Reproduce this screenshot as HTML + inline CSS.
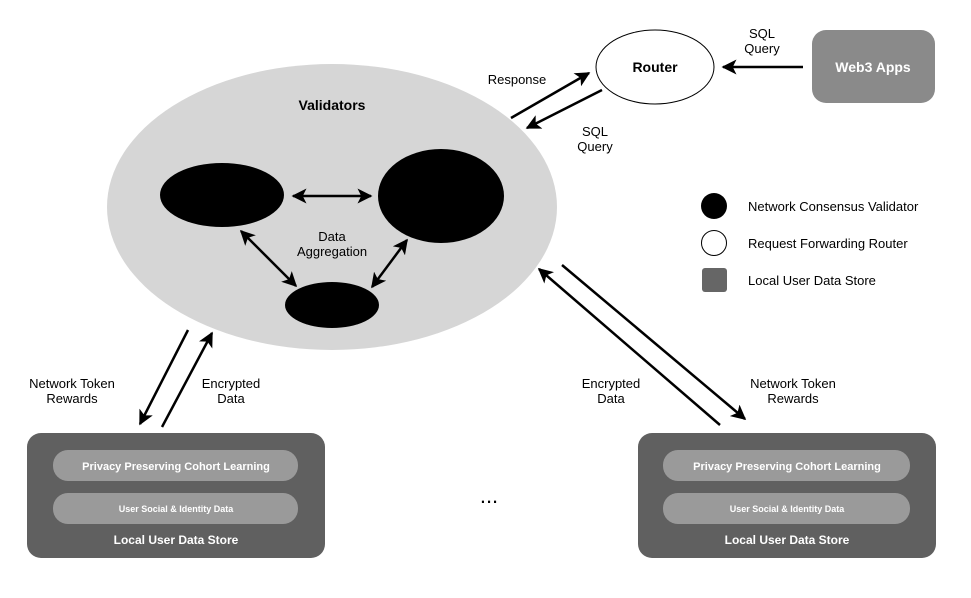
<!DOCTYPE html>
<html><head><style>
body{margin:0;background:#fff;}
svg{display:block;font-family:"Liberation Sans",Arial,sans-serif;}
</style></head><body>
<svg width="971" height="598" viewBox="0 0 971 598" xmlns="http://www.w3.org/2000/svg">
<defs>
<marker id="a" viewBox="0 0 10 10" refX="9" refY="5" markerWidth="6" markerHeight="6" orient="auto-start-reverse" markerUnits="strokeWidth">
<path d="M0,0 L10,5 L0,10 L2.5,5 z" fill="#000"/></marker>
</defs>
<rect width="971" height="598" fill="#fff"/>
<ellipse cx="332" cy="207" rx="225" ry="143" fill="#d6d6d6"/>
<text x="332" y="110" font-size="14" font-weight="bold" text-anchor="middle">Validators</text>
<ellipse cx="222" cy="195" rx="62" ry="32" fill="#000"/>
<ellipse cx="441" cy="196" rx="63" ry="47" fill="#000"/>
<ellipse cx="332" cy="305" rx="47" ry="23" fill="#000"/>
<g stroke="#000" stroke-width="2.5" fill="none">
<line x1="293" y1="196" x2="371" y2="196" marker-start="url(#a)" marker-end="url(#a)"/>
<line x1="241" y1="231" x2="296" y2="286" marker-start="url(#a)" marker-end="url(#a)"/>
<line x1="407" y1="240" x2="372" y2="287" marker-start="url(#a)" marker-end="url(#a)"/>
<line x1="511" y1="118" x2="589" y2="73" marker-end="url(#a)"/>
<line x1="602" y1="90" x2="527" y2="128" marker-end="url(#a)"/>
<line x1="803" y1="67" x2="723" y2="67" marker-end="url(#a)"/>
<line x1="188" y1="330" x2="140" y2="424" marker-end="url(#a)"/>
<line x1="162" y1="427" x2="212" y2="333" marker-end="url(#a)"/>
<line x1="562" y1="265" x2="745" y2="419" marker-end="url(#a)"/>
<line x1="720" y1="425" x2="539" y2="269" marker-end="url(#a)"/>
</g>
<text x="332" y="241" font-size="13" text-anchor="middle">Data</text>
<text x="332" y="256" font-size="13" text-anchor="middle">Aggregation</text>
<ellipse cx="655" cy="67" rx="59" ry="37" fill="#fff" stroke="#000" stroke-width="1"/>
<text x="655" y="72" font-size="14" font-weight="bold" text-anchor="middle">Router</text>
<rect x="812" y="30" width="123" height="73" rx="14" fill="#8a8a8a"/>
<text x="873" y="72" font-size="14" font-weight="bold" fill="#fff" text-anchor="middle">Web3 Apps</text>
<g font-size="13" text-anchor="middle">
<text x="762" y="38">SQL</text><text x="762" y="53">Query</text>
<text x="517" y="84">Response</text>
<text x="595" y="136">SQL</text><text x="595" y="151">Query</text>
<text x="72" y="388">Network Token</text><text x="72" y="403">Rewards</text>
<text x="231" y="388">Encrypted</text><text x="231" y="403">Data</text>
<text x="611" y="388">Encrypted</text><text x="611" y="403">Data</text>
<text x="793" y="388">Network Token</text><text x="793" y="403">Rewards</text>
</g>
<circle cx="714" cy="206" r="13" fill="#000"/>
<circle cx="714" cy="243" r="12.5" fill="#fff" stroke="#000" stroke-width="1"/>
<rect x="702" y="268" width="25" height="24" rx="3" fill="#666"/>
<g font-size="13">
<text x="748" y="211">Network Consensus Validator</text>
<text x="748" y="248">Request Forwarding Router</text>
<text x="748" y="285">Local User Data Store</text>
</g>
<g>
<rect x="27" y="433" width="298" height="125" rx="14" fill="#606060"/>
<rect x="53" y="450" width="245" height="31" rx="15" fill="#9a9a9a"/>
<rect x="53" y="493" width="245" height="31" rx="15" fill="#9a9a9a"/>
<text x="176" y="470" font-size="11" font-weight="bold" fill="#fff" text-anchor="middle">Privacy Preserving Cohort Learning</text>
<text x="176" y="512" font-size="9" font-weight="bold" fill="#fff" text-anchor="middle">User Social &amp; Identity Data</text>
<text x="176" y="544" font-size="12" font-weight="bold" fill="#fff" text-anchor="middle">Local User Data Store</text>
</g>
<g transform="translate(611,0)">
<rect x="27" y="433" width="298" height="125" rx="14" fill="#606060"/>
<rect x="52" y="450" width="247" height="31" rx="15" fill="#9a9a9a"/>
<rect x="52" y="493" width="247" height="31" rx="15" fill="#9a9a9a"/>
<text x="176" y="470" font-size="11" font-weight="bold" fill="#fff" text-anchor="middle">Privacy Preserving Cohort Learning</text>
<text x="176" y="512" font-size="9" font-weight="bold" fill="#fff" text-anchor="middle">User Social &amp; Identity Data</text>
<text x="176" y="544" font-size="12" font-weight="bold" fill="#fff" text-anchor="middle">Local User Data Store</text>
</g>
<text x="489" y="503" font-size="22" text-anchor="middle">...</text>
</svg>
</body></html>
